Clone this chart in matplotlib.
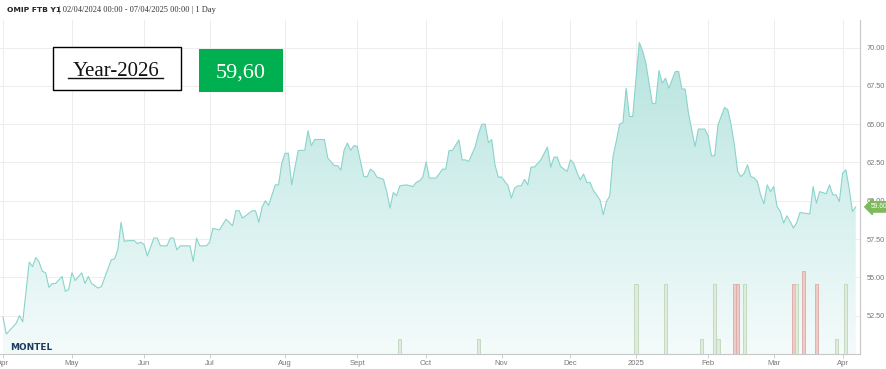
import numpy as np
import pandas as pd
import matplotlib
matplotlib.use("Agg")
import matplotlib.pyplot as plt
from matplotlib.patches import Rectangle
from matplotlib.lines import Line2D
from matplotlib.colors import LinearSegmentedColormap

# ---------------- data ----------------
start_date, end_date = "2024-04-02", "2025-04-07"
holidays = ["2024-05-01", "2024-12-25", "2024-12-26", "2025-01-01"]

price_dates = [
    "2024-04-02", "2024-04-03", "2024-04-08", "2024-04-09", "2024-04-10", "2024-04-12", "2024-04-15",
    "2024-04-16", "2024-04-17", "2024-04-18", "2024-04-19", "2024-04-22", "2024-04-23", "2024-04-24",
    "2024-04-26", "2024-04-29", "2024-04-30", "2024-05-02", "2024-05-03", "2024-05-07", "2024-05-08",
    "2024-05-09", "2024-05-10", "2024-05-14", "2024-05-15", "2024-05-20", "2024-05-21", "2024-05-22",
    "2024-05-23", "2024-05-24", "2024-05-27", "2024-05-29", "2024-05-30", "2024-05-31", "2024-06-03",
    "2024-06-04", "2024-06-06", "2024-06-07", "2024-06-10", "2024-06-12", "2024-06-13", "2024-06-14",
    "2024-06-17", "2024-06-18", "2024-06-21", "2024-06-24", "2024-06-25", "2024-06-26", "2024-06-28",
    "2024-07-01", "2024-07-02", "2024-07-04", "2024-07-08", "2024-07-10", "2024-07-11", "2024-07-12",
    "2024-07-15", "2024-07-18", "2024-07-19", "2024-07-22", "2024-07-23", "2024-07-24", "2024-07-25",
    "2024-07-29", "2024-07-30", "2024-07-31", "2024-08-01", "2024-08-02", "2024-08-05", "2024-08-07",
    "2024-08-09", "2024-08-12", "2024-08-13", "2024-08-14", "2024-08-19", "2024-08-20", "2024-08-22",
    "2024-08-23", "2024-08-26", "2024-08-27", "2024-08-28", "2024-08-29", "2024-08-30", "2024-09-02",
    "2024-09-04", "2024-09-05", "2024-09-06", "2024-09-09", "2024-09-10", "2024-09-12", "2024-09-13",
    "2024-09-16", "2024-09-17", "2024-09-18", "2024-09-19", "2024-09-23", "2024-09-25", "2024-09-26",
    "2024-09-27", "2024-09-30", "2024-10-01", "2024-10-02", "2024-10-04", "2024-10-07", "2024-10-08",
    "2024-10-09", "2024-10-10", "2024-10-11", "2024-10-15", "2024-10-16", "2024-10-17", "2024-10-18",
    "2024-10-22", "2024-10-23", "2024-10-24", "2024-10-25", "2024-10-28", "2024-10-29", "2024-10-30",
    "2024-10-31", "2024-11-01", "2024-11-05", "2024-11-06", "2024-11-07", "2024-11-08", "2024-11-11",
    "2024-11-12", "2024-11-13", "2024-11-14", "2024-11-15", "2024-11-19", "2024-11-20", "2024-11-21",
    "2024-11-22", "2024-11-25", "2024-11-26", "2024-11-27", "2024-11-28", "2024-11-29", "2024-12-02",
    "2024-12-03", "2024-12-04", "2024-12-05", "2024-12-06", "2024-12-09", "2024-12-10", "2024-12-11",
    "2024-12-13", "2024-12-16", "2024-12-17", "2024-12-18", "2024-12-19", "2024-12-20", "2024-12-23",
    "2024-12-24", "2024-12-27", "2024-12-30", "2024-12-31", "2025-01-02", "2025-01-03", "2025-01-06",
    "2025-01-07", "2025-01-08", "2025-01-09", "2025-01-10", "2025-01-13", "2025-01-14", "2025-01-15",
    "2025-01-16", "2025-01-20", "2025-01-21", "2025-01-22", "2025-01-23", "2025-01-24", "2025-01-27",
    "2025-01-28", "2025-01-29", "2025-01-31", "2025-02-03", "2025-02-04", "2025-02-05", "2025-02-06",
    "2025-02-10", "2025-02-11", "2025-02-12", "2025-02-13", "2025-02-14", "2025-02-17", "2025-02-18",
    "2025-02-19", "2025-02-20", "2025-02-21", "2025-02-24", "2025-02-25", "2025-02-26", "2025-02-27",
    "2025-02-28", "2025-03-03", "2025-03-04", "2025-03-05", "2025-03-06", "2025-03-07", "2025-03-10",
    "2025-03-11", "2025-03-12", "2025-03-13", "2025-03-14", "2025-03-18", "2025-03-19", "2025-03-20",
    "2025-03-21", "2025-03-25", "2025-03-26", "2025-03-27", "2025-03-28", "2025-03-31", "2025-04-01",
    "2025-04-02", "2025-04-03", "2025-04-04", "2025-04-07",
]
price_values = [
    52.4, 51.3, 52.0, 52.5, 52.1, 56.0, 55.7,
    56.3, 56.0, 55.4, 55.3, 54.35, 54.6, 54.6,
    55.06, 54.1, 54.2, 55.3, 54.8, 55.3, 54.6,
    55.06, 54.6, 54.3, 54.4, 56.15, 56.2, 56.8,
    58.6, 57.35, 57.4, 57.4, 57.2, 57.3, 57.15,
    56.4, 57.57, 57.57, 57.06, 57.06, 57.57, 57.57,
    56.8, 57.06, 57.06, 56.04, 57.57, 57.06, 57.06,
    57.3, 58.2, 58.1, 58.8, 58.37, 59.35, 59.35,
    58.87, 59.35, 59.35, 58.6, 59.6, 60.0, 59.7,
    61.04, 61.04, 62.46, 63.1, 63.1, 61.04, 63.28,
    63.3, 64.57, 63.6, 64.0, 64.0, 62.8, 62.3,
    62.3, 62.0, 63.3, 63.77, 63.3, 63.6, 63.55,
    61.6, 61.55, 62.07, 61.9, 61.55, 61.4, 60.6,
    59.52, 60.54, 60.33, 60.98, 61.04, 60.93, 61.2,
    61.3, 61.55, 62.54, 61.48, 61.48, 61.76, 62.07,
    62.07, 63.28, 63.28, 63.98, 62.67, 62.67, 62.56,
    63.54, 64.4, 65.0, 65.0, 63.8, 64.0, 62.35,
    61.55, 61.55, 60.98, 60.18, 60.83, 60.98, 60.98,
    61.4, 61.04, 62.2, 62.2, 62.67, 63.1, 63.5,
    62.2, 62.85, 62.85, 62.24, 62.07, 61.91, 62.67,
    62.46, 61.85, 61.37, 61.75, 61.2, 61.2, 60.67,
    60.07, 59.09, 59.95, 60.33, 62.9, 63.9, 65.0,
    65.1, 67.35, 65.5, 65.5, 68.0, 70.33, 69.8,
    69.0, 67.68, 66.33, 66.37, 68.5, 67.68, 68.0,
    67.35, 68.44, 68.44, 67.3, 67.29, 65.72, 64.63,
    63.54, 64.68, 64.68, 64.24, 62.94, 62.94, 64.96,
    66.1, 65.94, 64.96, 63.65, 61.91, 61.58, 61.8,
    62.35, 61.58, 61.5, 61.26, 60.39, 59.8, 61.04,
    60.6, 60.93, 59.63, 59.3, 58.55, 59.02, 58.65,
    58.22, 58.58, 59.24, 59.2, 59.15, 60.93, 59.85,
    60.6, 60.46, 61.04, 60.39, 60.39, 59.95, 61.8,
    62.02, 60.8, 59.3, 59.6,
]

vol_dates = ["2024-09-19", "2024-10-23", "2025-01-02", "2025-01-15", "2025-01-30", "2025-02-05",
             "2025-02-06", "2025-02-13", "2025-02-14", "2025-02-18", "2025-03-11", "2025-03-12",
             "2025-03-14", "2025-03-20", "2025-03-28", "2025-04-02"]
vol_values = [10, 10, 45, 45, 10, 45, 10, 45, 45, 45, 45, 45, 54, 45, 10, 45]
vol_up = [True, True, True, True, True, True, True, False, False, True, False, True,
          False, False, True, True]

month_tick_dates = ["2024-04-02", "2024-05-02", "2024-06-03", "2024-07-01", "2024-08-01", "2024-09-02",
                    "2024-10-01", "2024-11-01", "2024-12-02", "2025-01-02", "2025-02-03", "2025-03-03",
                    "2025-04-01"]
month_labels = ["Apr", "May", "Jun", "Jul", "Aug", "Sept", "Oct", "Nov", "Dec", "2025", "Feb", "Mar", "Apr"]
y_ticks = [52.5, 55.0, 57.5, 60.0, 62.5, 65.0, 67.5, 70.0]
last_price = 59.60

# ---------------- ordinal (trading-day) axis ----------------
tdays = pd.bdate_range(start_date, end_date).difference(pd.to_datetime(holidays))
def to_idx(dates):
    return tdays.searchsorted(pd.to_datetime(dates)).astype(float)

px = to_idx(price_dates)
py = np.array(price_values)
vx = to_idx(vol_dates)
tx = to_idx(month_tick_dates)

# ---------------- figure ----------------
W, H = 887, 369
fig = plt.figure(figsize=(W / 100, H / 100), dpi=100)
fig.patch.set_facecolor("white")

def fx(x): return x / W
def fy(y): return 1 - y / H

ax = fig.add_axes([fx(0), fy(354), fx(860) - fx(0), fy(20) - fy(354)])
ax.set_facecolor("white")
xmin, xmax = -0.92, 261.3
ymin, ymax = 50.0, 71.8
ax.set_xlim(xmin, xmax)
ax.set_ylim(ymin, ymax)

# grid
for t in y_ticks:
    ax.axhline(t, color="#ededed", lw=0.7, zorder=0)
for t in tx:
    ax.axvline(t, color="#ededed", lw=0.7, zorder=0)

# gradient area
fill = ax.fill_between(px, py, ymin, facecolor="none", edgecolor="none", zorder=1)
cmap = LinearSegmentedColormap.from_list("g", ["#f4fbfb", "#d5f0ed", "#b6e3de"])
grad = np.linspace(0, 1, 256).reshape(-1, 1)
im = ax.imshow(grad, extent=[xmin, xmax, ymin, 70.5], origin="lower", aspect="auto",
               cmap=cmap, zorder=1, interpolation="bicubic")
path = fill.get_paths()[0]
im.set_clip_path(path, transform=ax.transData)
ax.plot(px, py, color="#8ad4cb", lw=0.8, zorder=3)

# volume bars on a hidden twin axis
ax2 = ax.twinx()
ax2.set_ylim(0, 216)
ax2.set_xlim(xmin, xmax)
for x, v, up in zip(vx, vol_values, vol_up):
    fc = "#dfebdb" if up else "#efcbc8"
    ec = "#bfd6b9" if up else "#ddaaa6"
    ax2.bar(x, v, width=0.95, color=fc, edgecolor=ec, lw=0.6, zorder=2)
ax2.axis("off")

# axes styling
for s in ["top", "left"]:
    ax.spines[s].set_visible(False)
ax.spines["bottom"].set_color("#c8c8c8")
ax.spines["right"].set_color("#c8c8c8")
ax.spines["bottom"].set_linewidth(0.8)
ax.spines["right"].set_linewidth(0.8)
ax.set_xticks(tx)
ax.set_xticklabels(month_labels)
ax.tick_params(axis="x", length=3, width=0.6, color="#c8c8c8", labelsize=5.5,
               labelcolor="#777777", pad=1.5)
for lab in ax.get_xticklabels():
    lab.set_family("Liberation Sans")
ax.yaxis.tick_right()
ax.set_yticks(y_ticks)
ax.set_yticklabels([f"{t:.2f}" for t in y_ticks])
ax.tick_params(axis="y", length=0, labelsize=5.3, labelcolor="#777777", pad=5)
for lab in ax.get_yticklabels():
    lab.set_family("Liberation Sans")

# last price tag
ax.text(1.012, last_price, f"{last_price:.2f}", transform=ax.get_yaxis_transform(),
        ha="left", va="center", fontsize=4.8, color="white", family="Liberation Sans",
        bbox=dict(boxstyle="larrow,pad=0.25", fc="#7dba5c", ec="#7dba5c"), zorder=5, clip_on=False)

# header
fig.text(fx(7), fy(10), "OMIP FTB Y1", ha="left", va="center", fontsize=5.4,
         fontweight="bold", family="DejaVu Sans", color="#222222")
fig.text(fx(59), fy(10), "| 02/04/2024 00:00 - 07/04/2025 00:00 | 1 Day", ha="left", va="center",
         fontsize=6, family="Liberation Serif", color="#333333")

# MONTEL logo
fig.text(fx(10), fy(348), "MONTEL", ha="left", va="center", fontsize=6.4, fontweight="bold",
         family="DejaVu Sans", color="#1d3a5f")

# overlay boxes
fig.add_artist(Rectangle((fx(53.5), fy(90)), fx(180.5) - fx(53.5), fy(47.5) - fy(90),
                         transform=fig.transFigure, fc="white", ec="black", lw=1.0, zorder=10))
fig.text(fx(116), fy(75.5), "Year-2026", ha="center", va="baseline", fontsize=15,
         family="Liberation Serif", color="#111111", zorder=11)
fig.add_artist(Line2D([fx(68), fx(163)], [fy(78), fy(78)], transform=fig.transFigure,
                      color="#111111", lw=1.0, zorder=11))
fig.add_artist(Rectangle((fx(199), fy(91.5)), fx(283) - fx(199), fy(49) - fy(91.5),
                         transform=fig.transFigure, fc="#00b050", ec="none", zorder=10))
fig.text(fx(241), fy(78), "59,60", ha="center", va="baseline", fontsize=16,
         family="Liberation Serif", color="white", zorder=11)

fig.savefig("out.png", dpi=100, facecolor="white")
